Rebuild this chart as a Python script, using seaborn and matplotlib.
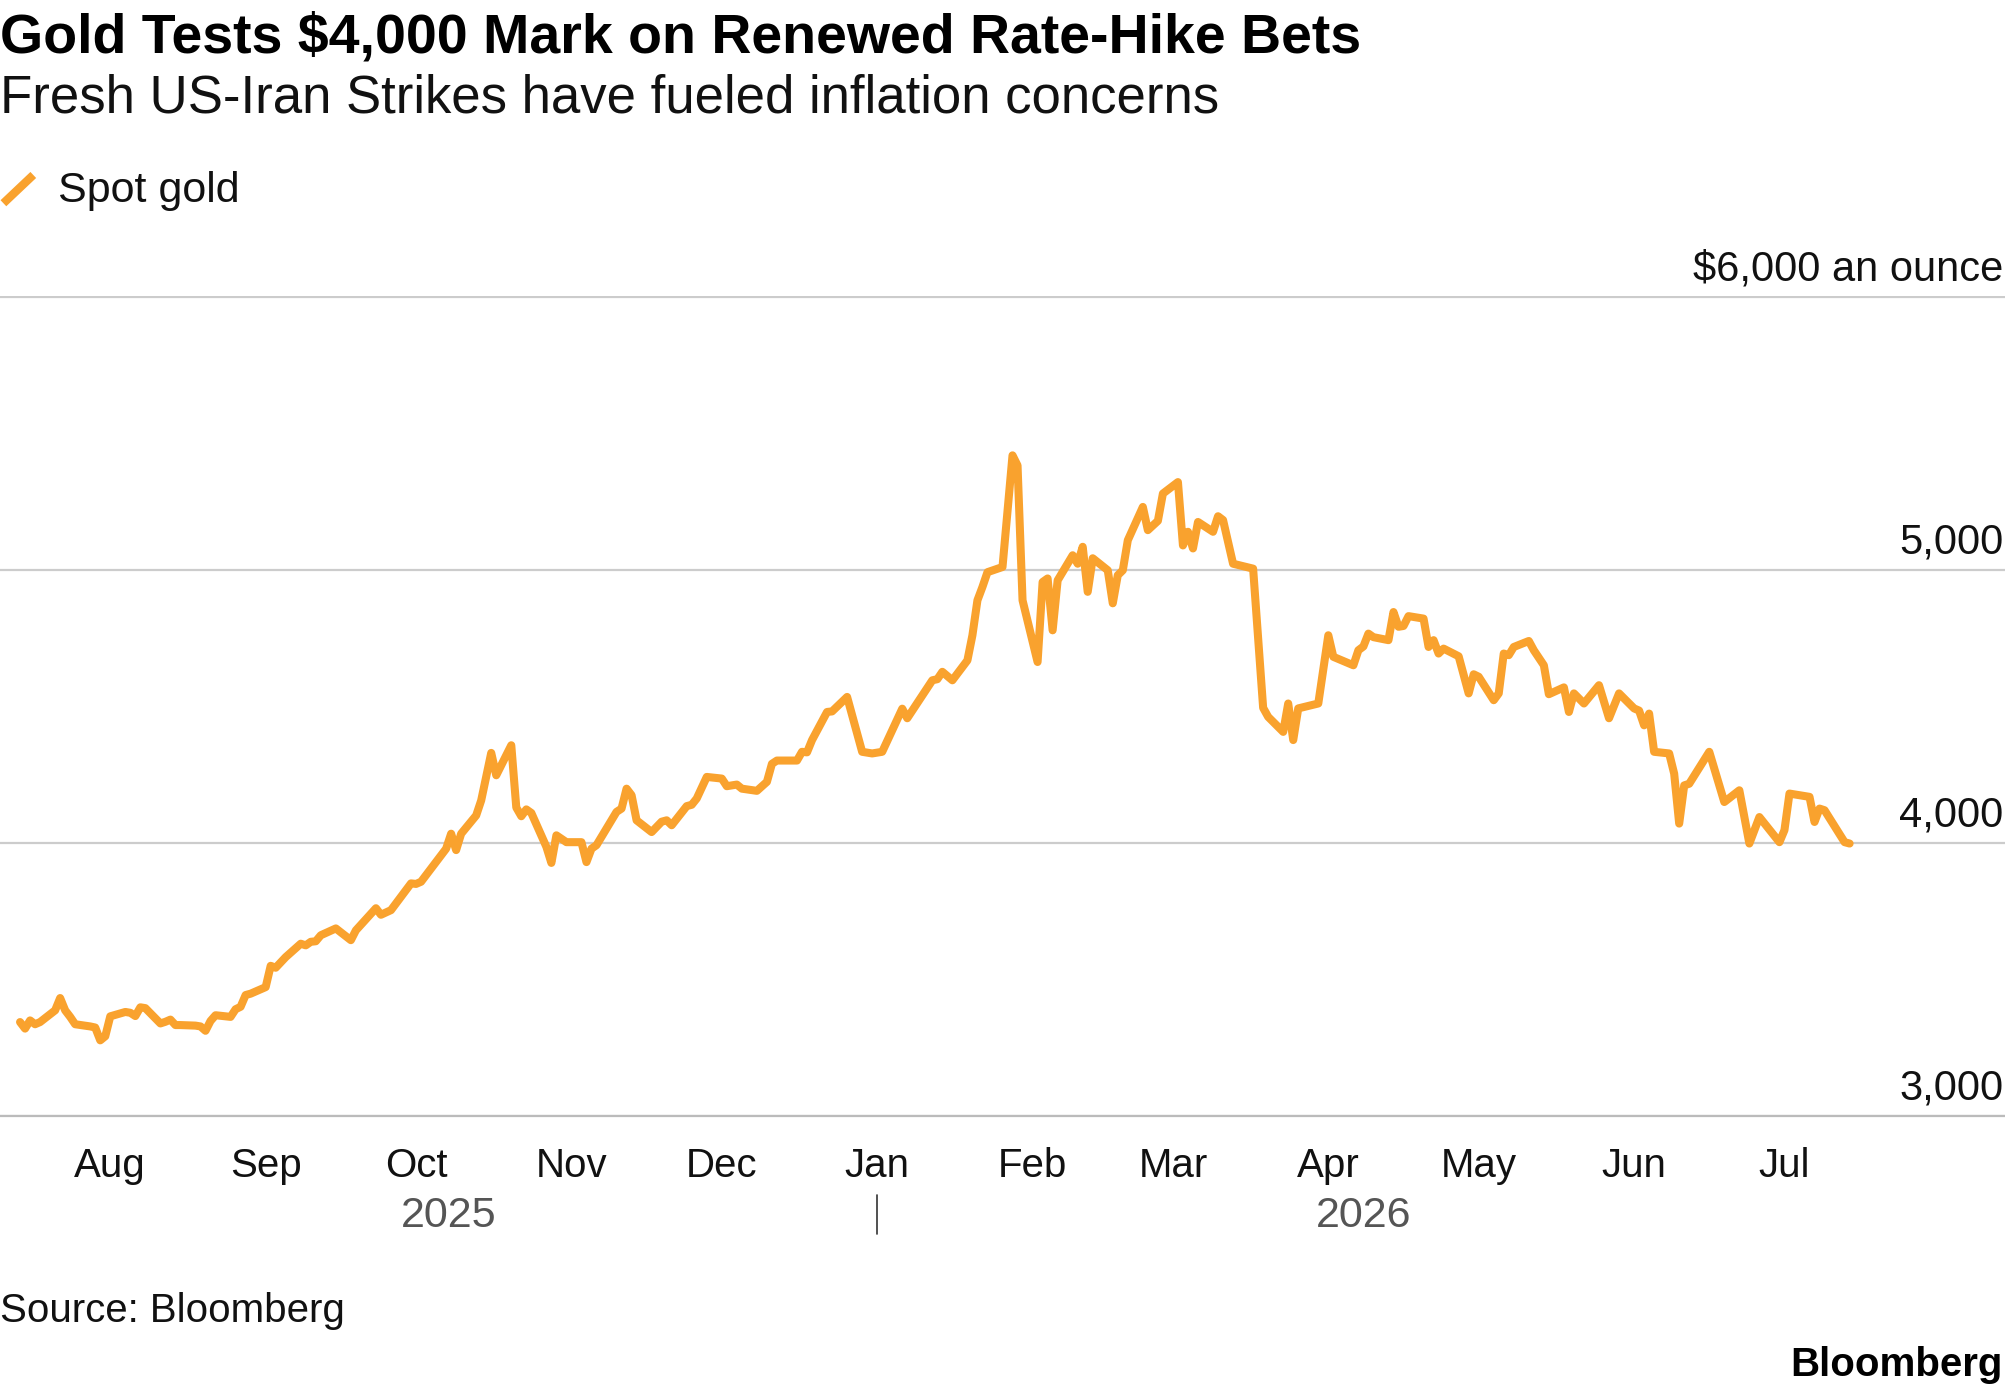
import matplotlib
matplotlib.use("Agg")
import matplotlib.pyplot as plt
import matplotlib.dates as mdates
import seaborn as sns
import pandas as pd

# spot gold (USD/oz)
dates = [
    "2025-07-14", "2025-07-15", "2025-07-16", "2025-07-17", "2025-07-18",
    "2025-07-21", "2025-07-22", "2025-07-23", "2025-07-24", "2025-07-25",
    "2025-07-28", "2025-07-29", "2025-07-30", "2025-07-31", "2025-08-01",
    "2025-08-04", "2025-08-05", "2025-08-06", "2025-08-07", "2025-08-08",
    "2025-08-11", "2025-08-12", "2025-08-13", "2025-08-14", "2025-08-15",
    "2025-08-18", "2025-08-19", "2025-08-20", "2025-08-21", "2025-08-22",
    "2025-08-25", "2025-08-26", "2025-08-27", "2025-08-28", "2025-08-29",
    "2025-09-01", "2025-09-02", "2025-09-03", "2025-09-05", "2025-09-08",
    "2025-09-09", "2025-09-10", "2025-09-11", "2025-09-12", "2025-09-15",
    "2025-09-18", "2025-09-19", "2025-09-23", "2025-09-24", "2025-09-26",
    "2025-09-30", "2025-10-01", "2025-10-02", "2025-10-07", "2025-10-08",
    "2025-10-09", "2025-10-10", "2025-10-13", "2025-10-14", "2025-10-16",
    "2025-10-17", "2025-10-20", "2025-10-21", "2025-10-22", "2025-10-23",
    "2025-10-24", "2025-10-27", "2025-10-28", "2025-10-29", "2025-10-31",
    "2025-11-03", "2025-11-04", "2025-11-05", "2025-11-06", "2025-11-10",
    "2025-11-11", "2025-11-12", "2025-11-13", "2025-11-14", "2025-11-17",
    "2025-11-19", "2025-11-20", "2025-11-21", "2025-11-24", "2025-11-25",
    "2025-11-26", "2025-11-28", "2025-12-01", "2025-12-02", "2025-12-04",
    "2025-12-05", "2025-12-08", "2025-12-10", "2025-12-11", "2025-12-12",
    "2025-12-16", "2025-12-17", "2025-12-18", "2025-12-19", "2025-12-22",
    "2025-12-23", "2025-12-26", "2025-12-29", "2025-12-31", "2026-01-02",
    "2026-01-06", "2026-01-07", "2026-01-12", "2026-01-13", "2026-01-14",
    "2026-01-16", "2026-01-19", "2026-01-20", "2026-01-21", "2026-01-22",
    "2026-01-23", "2026-01-26", "2026-01-28", "2026-01-29", "2026-01-30",
    "2026-02-02", "2026-02-03", "2026-02-04", "2026-02-05", "2026-02-06",
    "2026-02-09", "2026-02-10", "2026-02-11", "2026-02-12", "2026-02-13",
    "2026-02-16", "2026-02-17", "2026-02-18", "2026-02-19", "2026-02-20",
    "2026-02-23", "2026-02-24", "2026-02-26", "2026-02-27", "2026-03-02",
    "2026-03-03", "2026-03-04", "2026-03-05", "2026-03-06", "2026-03-09",
    "2026-03-10", "2026-03-11", "2026-03-13", "2026-03-17", "2026-03-19",
    "2026-03-20", "2026-03-23", "2026-03-24", "2026-03-25", "2026-03-26",
    "2026-03-30", "2026-04-01", "2026-04-02", "2026-04-06", "2026-04-07",
    "2026-04-08", "2026-04-09", "2026-04-10", "2026-04-13", "2026-04-14",
    "2026-04-15", "2026-04-16", "2026-04-17", "2026-04-20", "2026-04-21",
    "2026-04-22", "2026-04-23", "2026-04-24", "2026-04-27", "2026-04-29",
    "2026-04-30", "2026-05-01", "2026-05-04", "2026-05-05", "2026-05-06",
    "2026-05-07", "2026-05-08", "2026-05-11", "2026-05-12", "2026-05-14",
    "2026-05-15", "2026-05-18", "2026-05-19", "2026-05-20", "2026-05-22",
    "2026-05-25", "2026-05-27", "2026-05-29", "2026-06-01", "2026-06-02",
    "2026-06-03", "2026-06-04", "2026-06-05", "2026-06-08", "2026-06-09",
    "2026-06-10", "2026-06-11", "2026-06-12", "2026-06-16", "2026-06-19",
    "2026-06-22", "2026-06-24", "2026-06-26", "2026-06-30", "2026-07-01",
    "2026-07-02", "2026-07-06", "2026-07-07", "2026-07-08", "2026-07-09",
    "2026-07-13", "2026-07-14",
]
prices = [
    3344, 3320, 3350, 3336, 3344,
    3387, 3432, 3387, 3363, 3336,
    3328, 3324, 3277, 3292, 3365,
    3381, 3378, 3366, 3398, 3395,
    3339, 3345, 3353, 3333, 3333,
    3331, 3328, 3312, 3348, 3369,
    3363, 3391, 3400, 3443, 3448,
    3472, 3550, 3543, 3582, 3631,
    3625, 3638, 3640, 3662, 3687,
    3644, 3680, 3761, 3737, 3754,
    3852, 3850, 3858, 3979, 4034,
    3974, 4034, 4101, 4156, 4330,
    4248, 4358, 4130, 4098, 4123,
    4110, 3986, 3927, 4028, 4003,
    4003, 3930, 3979, 3992, 4114,
    4126, 4199, 4175, 4083, 4040,
    4078, 4083, 4065, 4135, 4140,
    4163, 4242, 4236, 4208, 4214,
    4199, 4191, 4224, 4290, 4302,
    4302, 4334, 4332, 4377, 4480,
    4482, 4535, 4334, 4328, 4334,
    4492, 4457, 4596, 4600, 4627,
    4596, 4669, 4761, 4889, 4938,
    4992, 5011, 5420, 5383, 4889,
    4663, 4956, 4969, 4779, 4962,
    5054, 5023, 5085, 4920, 5043,
    4999, 4878, 4981, 4999, 5109,
    5231, 5146, 5180, 5280, 5322,
    5090, 5140, 5079, 5176, 5140,
    5197, 5183, 5023, 5005, 4495,
    4462, 4407, 4511, 4377, 4493,
    4511, 4761, 4682, 4651, 4706,
    4720, 4767, 4754, 4743, 4846,
    4792, 4795, 4831, 4822, 4718,
    4743, 4694, 4712, 4684, 4548,
    4618, 4609, 4523, 4548, 4694,
    4688, 4718, 4740, 4706, 4651,
    4545, 4570, 4480, 4548, 4511,
    4578, 4457, 4548, 4493, 4485,
    4431, 4474, 4334, 4328, 4254,
    4071, 4211, 4217, 4334, 4150,
    4193, 3998, 4095, 4003, 4047,
    4181, 4169, 4077, 4126, 4120,
    4003, 3998,
]

title = r"Gold Tests \$4,000 Mark on Renewed Rate-Hike Bets"
subtitle = "Fresh US-Iran Strikes have fueled inflation concerns"
series_name = "Spot gold"
y_ticks = [3000, 4000, 5000, 6000]
y_tick_labels = ["3,000", "4,000", "5,000", r"\$6,000 an ounce"]
month_ticks = pd.date_range("2025-08-01", "2026-07-01", freq="MS")
year_labels = ["2025", "2026"]
source = "Source: Bloomberg"
brand = "Bloomberg"

GOLD = "#F9A22E"
GRID = "#CCCCCC"

sns.set_style("white")
plt.rcParams["font.family"] = ["Liberation Sans", "DejaVu Sans"]

df = pd.DataFrame({"date": pd.to_datetime(dates), "price": prices})

fig = plt.figure(figsize=(20.05, 13.92), dpi=100)
ax = fig.add_axes([0, 0.1983, 1, 0.5893])

sns.lineplot(data=df, x="date", y="price", color=GOLD, ax=ax, legend=False)
line = ax.lines[0]
line.set_linewidth(5.8)
line.set_solid_joinstyle("round")
line.set_solid_capstyle("round")

ax.set_xlim(pd.Timestamp("2025-07-10"), pd.Timestamp("2026-08-14"))
ax.set_ylim(3000, 6005)
ax.set_xlabel("")
ax.set_ylabel("")

# gridlines and right-hand labels sitting on top of them
ax.set_yticks(y_ticks)
ax.yaxis.grid(True, color=GRID, linewidth=1.6)
ax.tick_params(axis="y", left=False, labelleft=False)
for v, lab in zip(y_ticks, y_tick_labels):
    ax.annotate(lab, xy=(1, v), xycoords=("axes fraction", "data"),
                xytext=(-1, 12), textcoords="offset points",
                ha="right", va="baseline", fontsize=30, color="#111111")

# month ticks
ax.set_xticks(month_ticks)
ax.xaxis.set_major_formatter(mdates.DateFormatter("%b"))
ax.tick_params(axis="x", direction="out", length=16, width=1.2,
               color="#333333", labelsize=29, labelcolor="#111111", pad=6)

for side in ["top", "left", "right"]:
    ax.spines[side].set_visible(False)
ax.spines["bottom"].set_color("#BBBBBB")
ax.spines["bottom"].set_linewidth(1.6)

# year labels centred under each year's stretch of data
jan1 = pd.Timestamp("2026-01-01")
first, last = df["date"].min(), df["date"].max()
centres = [first + (jan1 - first) / 2, jan1 + (last - jan1) / 2]
xt = ax.get_xaxis_transform()
for c, lab in zip(centres, year_labels):
    ax.text(c, -0.1357, lab, transform=xt, ha="center", va="baseline",
            fontsize=31, color="#555555")
ax.plot([jan1, jan1], [-0.0967, -0.1435], transform=xt, color="#333333",
        linewidth=1.2, clip_on=False)

# header
fig.text(0.0, 0.9624, title, fontsize=40, fontweight="bold",
         ha="left", va="baseline", color="#000000")
fig.text(0.0, 0.9192, subtitle, fontsize=38, ha="left", va="baseline",
         color="#111111")

# legend: orange slash + label
fig.add_artist(plt.Line2D([0.0017, 0.0166], [0.854, 0.8743], color=GOLD,
                          linewidth=6.0, solid_capstyle="butt"))
fig.text(0.0287, 0.8549, series_name, fontsize=31, ha="left",
         va="baseline", color="#111111")

# footer
fig.text(0.0, 0.0502, source, fontsize=29, ha="left", va="baseline",
         color="#111111")
fig.text(0.999, 0.0116, brand, fontsize=29, fontweight="bold",
         ha="right", va="baseline", color="#000000")

fig.savefig("out.png", dpi=100)
